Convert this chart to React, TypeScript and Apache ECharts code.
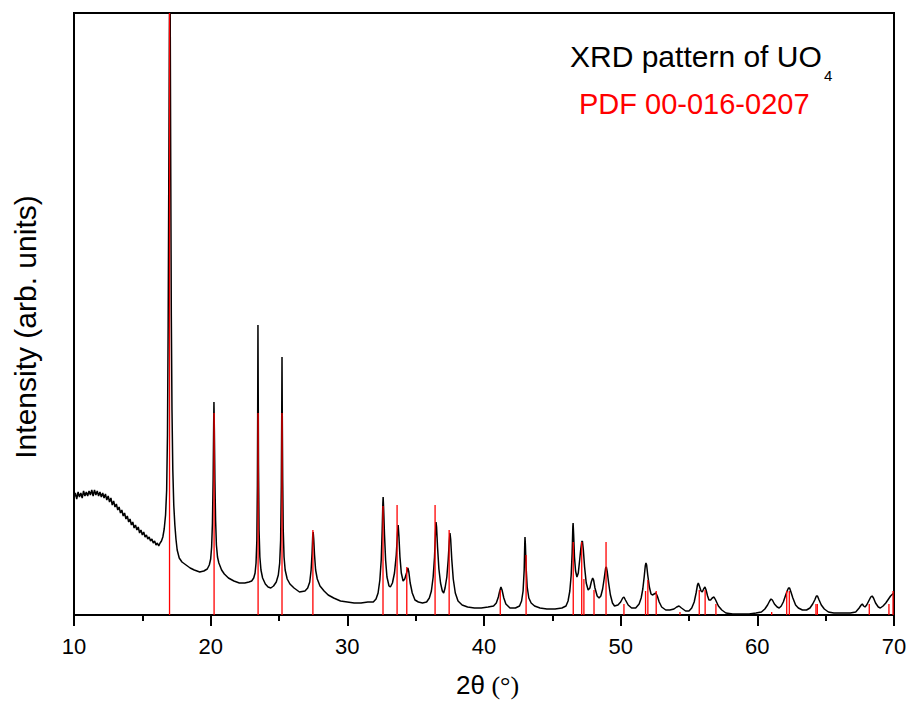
import React, { useEffect, useRef } from "react";
import * as echarts from "echarts";

// Measured UO4 XRD pattern: [2θ (°), intensity (arb. units)]
const uo4Pattern: [number, number][] = [
  [10.0, 117], [10.1, 122], [10.2, 116], [10.3, 123], [10.4, 118], [10.5, 122], [10.6, 117], [10.7, 124],
  [10.8, 119], [10.9, 123], [11.0, 119], [11.1, 124], [11.2, 120], [11.3, 125], [11.4, 119], [11.5, 125],
  [11.6, 120], [11.7, 124], [11.8, 119], [11.9, 123], [12.0, 118], [12.1, 122], [12.2, 117], [12.3, 121],
  [12.4, 115], [12.5, 119], [12.6, 113], [12.7, 117], [12.8, 110], [12.9, 114], [13.0, 108], [13.1, 111],
  [13.2, 105], [13.3, 108], [13.4, 102], [13.5, 105], [13.6, 99], [13.7, 102], [13.8, 96], [13.9, 99],
  [14.0, 93], [14.1, 96], [14.2, 90], [14.3, 93], [14.4, 87], [14.5, 90], [14.6, 85], [14.7, 88],
  [14.8, 82], [14.9, 85], [15.0, 80], [15.1, 83], [15.2, 78], [15.3, 80], [15.4, 76], [15.5, 78],
  [15.6, 74], [15.7, 76], [15.8, 72], [15.9, 74], [16.0, 70], [16.1, 72], [16.2, 69],
  [16.3, 72], [16.4, 74], [16.5, 78], [16.6, 86], [16.7, 100], [16.78, 125], [16.84, 180], [16.89, 290],
  [16.94, 450], [16.98, 580], [17.01, 640], [17.04, 600], [17.08, 440], [17.12, 300], [17.17, 205],
  [17.23, 145], [17.3, 110], [17.38, 90], [17.46, 76], [17.55, 65], [17.7, 57], [17.9, 53], [18.2, 50],
  [18.5, 47], [18.8, 45], [19.2, 43], [19.5, 44], [19.75, 46], [19.9, 50], [20.0, 56], [20.07, 68],
  [20.13, 92], [20.18, 135], [20.22, 190], [20.24, 213], [20.27, 185], [20.31, 135], [20.36, 95],
  [20.42, 70], [20.5, 58], [20.6, 52], [20.8, 45], [21.0, 41], [21.3, 37], [21.7, 34], [22.1, 32],
  [22.5, 32], [22.8, 33], [23.0, 34], [23.15, 37], [23.25, 42], [23.32, 52], [23.38, 75], [23.42, 130],
  [23.44, 200], [23.46, 290], [23.48, 220], [23.5, 150], [23.54, 85], [23.6, 58], [23.68, 45], [23.8, 37],
  [24.0, 31], [24.2, 28], [24.4, 27], [24.6, 29], [24.8, 33], [24.95, 40], [25.05, 52], [25.12, 75],
  [25.17, 130], [25.2, 200], [25.22, 258], [25.24, 200], [25.27, 135], [25.31, 85], [25.37, 58],
  [25.45, 45], [25.6, 36], [25.8, 31], [26.1, 27], [26.5, 23], [26.9, 24], [27.1, 27], [27.25, 33],
  [27.35, 45], [27.42, 62], [27.47, 80], [27.5, 83], [27.54, 76], [27.6, 60], [27.68, 45], [27.8, 36],
  [28.0, 29], [28.3, 24], [28.6, 20], [29.0, 17], [29.5, 14], [30.0, 13], [30.5, 12], [31.0, 12],
  [31.5, 13], [31.9, 13], [32.1, 16], [32.25, 22], [32.38, 35], [32.48, 55], [32.55, 85], [32.6, 112],
  [32.62, 118], [32.66, 105], [32.72, 80], [32.8, 55], [32.9, 38], [33.05, 29], [33.15, 28], [33.3, 32],
  [33.45, 42], [33.58, 60], [33.67, 82], [33.72, 90], [33.77, 80], [33.85, 58], [33.95, 42], [34.08, 34],
  [34.2, 36], [34.33, 42], [34.43, 47], [34.5, 43], [34.6, 32], [34.75, 22], [34.95, 15], [35.2, 13],
  [35.5, 12], [35.8, 13], [36.0, 17], [36.15, 24], [36.28, 38], [36.38, 58], [36.45, 82], [36.49, 93],
  [36.53, 88], [36.6, 68], [36.7, 46], [36.82, 32], [36.95, 24], [37.05, 22], [37.15, 27], [37.28, 38],
  [37.38, 55], [37.46, 74], [37.51, 82], [37.56, 76], [37.64, 56], [37.75, 36], [37.9, 22], [38.1, 14],
  [38.4, 10], [38.8, 8], [39.3, 7], [39.8, 7], [40.3, 8], [40.7, 9], [40.9, 12], [41.05, 18],
  [41.15, 24], [41.24, 28], [41.32, 25], [41.45, 17], [41.6, 11], [41.9, 7], [42.3, 7], [42.6, 9],
  [42.75, 14], [42.86, 24], [42.94, 45], [42.98, 70], [43.0, 78], [43.03, 70], [43.08, 48], [43.16, 28],
  [43.28, 17], [43.45, 12], [43.7, 9], [44.1, 7], [44.6, 6], [45.2, 6], [45.7, 7], [46.0, 9],
  [46.15, 14], [46.28, 24], [46.38, 40], [46.45, 62], [46.5, 88], [46.52, 92], [46.56, 80], [46.62, 58],
  [46.7, 44], [46.8, 38], [46.9, 42], [47.0, 55], [47.08, 66], [47.15, 73], [47.2, 74], [47.27, 65],
  [47.36, 48], [47.48, 32], [47.62, 25], [47.75, 27], [47.85, 33], [47.95, 37], [48.02, 35], [48.12, 27],
  [48.28, 19], [48.42, 17], [48.55, 19], [48.68, 26], [48.8, 37], [48.9, 47], [48.95, 48], [49.02, 43],
  [49.12, 32], [49.25, 20], [49.4, 12], [49.55, 9], [49.8, 10], [50.0, 13], [50.15, 17], [50.24, 18],
  [50.35, 15], [50.55, 10], [50.8, 7], [51.1, 7], [51.35, 11], [51.5, 17], [51.62, 26], [51.72, 38],
  [51.8, 49], [51.85, 52], [51.9, 50], [51.98, 40], [52.1, 28], [52.22, 21], [52.32, 20], [52.45, 21],
  [52.58, 22], [52.68, 19], [52.82, 13], [53.0, 8], [53.3, 5], [53.6, 5], [53.9, 6], [54.1, 8],
  [54.27, 9], [54.45, 7], [54.75, 4], [55.0, 4], [55.2, 7], [55.38, 13], [55.52, 22], [55.62, 30],
  [55.68, 32], [55.76, 29], [55.88, 24], [55.97, 23], [56.07, 26], [56.17, 28], [56.25, 25], [56.36, 19],
  [56.46, 15], [56.58, 15], [56.7, 17], [56.83, 18], [56.95, 15], [57.15, 9], [57.4, 5], [57.7, 2],
  [58.2, 1], [58.8, 1], [59.4, 1], [59.9, 2], [60.3, 3], [60.55, 6], [60.75, 10], [60.9, 14],
  [61.0, 16], [61.1, 15], [61.25, 11], [61.45, 8], [61.6, 7], [61.75, 9], [61.9, 13], [62.05, 19],
  [62.18, 24], [62.28, 27], [62.36, 27], [62.46, 23], [62.6, 17], [62.8, 10], [63.0, 7], [63.3, 5],
  [63.6, 5], [63.85, 7], [64.05, 11], [64.2, 15], [64.32, 19], [64.4, 19], [64.52, 15], [64.68, 10],
  [64.9, 6], [65.2, 3], [65.6, 2], [66.2, 2], [66.8, 2], [67.2, 3], [67.45, 7], [67.6, 10],
  [67.68, 11], [67.78, 9], [67.88, 8], [68.0, 10], [68.15, 14], [68.3, 18], [68.4, 19], [68.5, 17],
  [68.65, 12], [68.85, 8], [69.0, 7], [69.2, 9], [69.4, 12], [69.6, 16], [69.75, 19], [69.9, 21],
  [70.0, 22],
];

// Reference pattern PDF 00-016-0207
const pdfTheta = [
  16.99, 20.25, 23.47, 25.22, 27.48, 32.61, 33.64, 34.35, 36.42, 37.45, 41.19, 43.08, 46.53, 47.15,
  47.31, 48.05, 48.93, 50.24, 51.82, 51.99, 52.6, 54.34, 55.75, 56.18, 56.97, 61.05, 62.15, 62.34,
  64.29, 64.39, 68.19, 69.63, 69.93,
];
const pdfIntensity = [
  602, 202, 202, 202, 85, 109, 110, 48, 110, 85, 25, 60, 73, 73,
  36, 25, 73, 11, 24, 35, 24, 3, 25, 25, 11, 3, 24, 24,
  11, 11, 11, 11, 24,
];

const xMin = 10;
const xMax = 70;
const xInterval = 10;
const yMax = 602;

const titleMain = "XRD pattern of UO";
const titleSub = "4";
const titlePdf = "PDF 00-016-0207";
const yTitle = "Intensity (arb. units)";

export default function App() {
  const ref = useRef<HTMLDivElement>(null);

  useEffect(() => {
    document.body.style.margin = "0";
    if (!ref.current) return;
    const chart = echarts.init(ref.current, undefined, { renderer: "svg" });
    const font = "Liberation Sans, Arial, sans-serif";
    const pdfData = pdfTheta.map((t, i) => [t, pdfIntensity[i]]);

    chart.setOption({
      animation: false,
      backgroundColor: "#ffffff",
      grid: {
        left: 74,
        right: 16,
        top: 13,
        bottom: 87,
        show: true,
        borderColor: "#000",
        borderWidth: 2,
        backgroundColor: "transparent",
      },
      xAxis: {
        type: "value",
        min: xMin,
        max: xMax,
        interval: xInterval,
        axisLine: { show: true, lineStyle: { color: "#000", width: 2 } },
        axisTick: { show: true, inside: false, length: 11, lineStyle: { color: "#000", width: 2 } },
        minorTick: { show: true, splitNumber: 2, length: 6, lineStyle: { color: "#000", width: 2 } },
        axisLabel: { color: "#000", fontSize: 22, fontFamily: font, margin: 20 },
        splitLine: { show: false },
        minorSplitLine: { show: false },
      },
      yAxis: {
        type: "value",
        min: 0,
        max: yMax,
        axisLine: { show: false },
        axisTick: { show: false },
        axisLabel: { show: false },
        splitLine: { show: false },
      },
      series: [
        {
          type: "line",
          data: uo4Pattern,
          symbol: "none",
          clip: true,
          z: 2,
          lineStyle: { color: "#000", width: 1.5 },
        },
        {
          type: "custom",
          data: pdfData,
          encode: { x: 0, y: 1 },
          z: 3,
          renderItem: (params: any, api: any) => {
            const t = api.value(0);
            const h = api.value(1);
            const p0 = api.coord([t, 0]);
            const p1 = api.coord([t, h]);
            return {
              type: "line",
              shape: { x1: p0[0], y1: p0[1], x2: p1[0], y2: p1[1] },
              style: { stroke: "#ff0000", lineWidth: 1.3 },
            };
          },
        },
      ],
      graphic: [
        {
          type: "text",
          x: 570,
          y: 56,
          style: {
            text: titleMain,
            fontSize: 30,
            fontFamily: font,
            fill: "#000",
            align: "left",
            verticalAlign: "middle",
          },
        },
        {
          type: "text",
          x: 824,
          y: 75,
          style: {
            text: titleSub,
            fontSize: 15,
            fontFamily: font,
            fill: "#000",
            align: "left",
            verticalAlign: "middle",
          },
        },
        {
          type: "text",
          x: 579,
          y: 103.5,
          style: {
            text: titlePdf,
            fontSize: 29,
            fontFamily: font,
            fill: "#ff0000",
            align: "left",
            verticalAlign: "middle",
          },
        },
        {
          type: "text",
          x: 456,
          y: 685,
          style: {
            text: "{a|2θ}{b| (°)}",
            rich: {
              a: { fontSize: 26, fontFamily: font, fill: "#000" },
              b: { fontSize: 26, fontFamily: "Liberation Serif, Times New Roman, serif", fill: "#000" },
            },
            align: "left",
            verticalAlign: "middle",
          },
        },
        {
          type: "text",
          x: 25,
          y: 327,
          rotation: Math.PI / 2,
          style: {
            text: yTitle,
            fontSize: 30,
            fontFamily: font,
            fill: "#000",
            align: "center",
            verticalAlign: "middle",
          },
        },
      ],
    });

    return () => chart.dispose();
  }, []);

  return <div ref={ref} style={{ width: 910, height: 702 }} />;
}
